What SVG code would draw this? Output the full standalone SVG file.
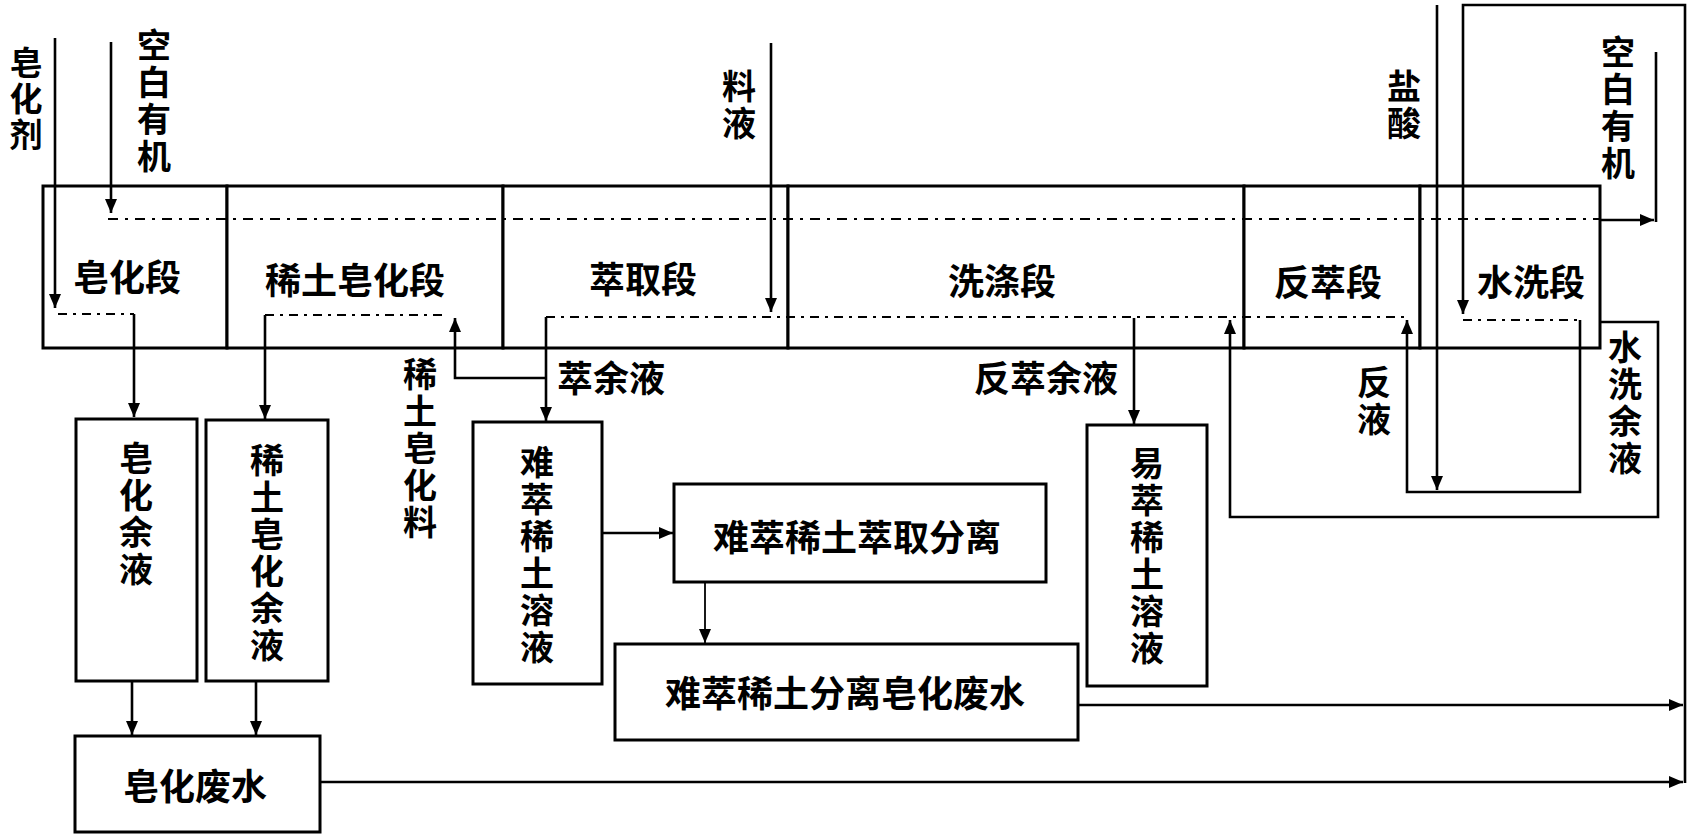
<svg xmlns="http://www.w3.org/2000/svg" width="1696" height="836" viewBox="0 0 1696 836">
<defs>
<marker id="ah" markerUnits="userSpaceOnUse" markerWidth="14" markerHeight="12" refX="14" refY="6" orient="auto">
<path d="M0,0 L14,6 L0,12 z" fill="#000"/>
</marker>
<style>
.box{fill:#fff;stroke:#000;stroke-width:3}
.ln{fill:none;stroke:#000;stroke-width:2.6}
.thin{fill:none;stroke:#000;stroke-width:1.8}
.dd{fill:none;stroke:#000;stroke-width:2;stroke-dasharray:10 7 3 7}
.ds{fill:none;stroke:#000;stroke-width:2;stroke-dasharray:9 6 3 6}
.t{font-family:"Noto Sans CJK SC","Noto Sans CJK JP",sans-serif;font-weight:700;font-size:36px;fill:#000;text-anchor:middle;dominant-baseline:central}
.v{font-family:"Noto Sans CJK SC","Noto Sans CJK JP",sans-serif;font-weight:700;font-size:34px;fill:#000;text-anchor:middle;writing-mode:vertical-rl;letter-spacing:3px}
</style>
</defs>
<rect width="1696" height="836" fill="#fff"/>

<g id="stage-soap"><rect class="box" x="43" y="186" width="184" height="162"/><text class="t" x="127" y="275">皂化段</text></g>
<g id="stage-re-soap"><rect class="box" x="227" y="186" width="276" height="162"/><text class="t" x="355" y="278">稀土皂化段</text></g>
<g id="stage-extract"><rect class="box" x="503" y="186" width="285" height="162"/><text class="t" x="643" y="277">萃取段</text></g>
<g id="stage-wash"><rect class="box" x="788" y="186" width="456" height="162"/><text class="t" x="1002" y="279">洗涤段</text></g>
<g id="stage-strip"><rect class="box" x="1244" y="186" width="176" height="162"/><text class="t" x="1328" y="280">反萃段</text></g>
<g id="stage-waterwash"><rect class="box" x="1420" y="186" width="180" height="162"/><text class="t" x="1531" y="280">水洗段</text></g>

<g id="soap-raffinate"><rect class="box" x="76" y="419" width="121" height="262"/><text class="v" x="136" y="515">皂化余液</text></g>
<g id="re-soap-raffinate"><rect class="box" x="206" y="420" width="122" height="261"/><text class="v" x="267" y="554">稀土皂化余液</text></g>
<g id="hard-re-solution"><rect class="box" x="473" y="422" width="129" height="262"/><text class="v" x="537" y="556">难萃稀土溶液</text></g>
<g id="easy-re-solution"><rect class="box" x="1087" y="425" width="120" height="261"/><text class="v" x="1147" y="557">易萃稀土溶液</text></g>
<g id="hard-re-separation"><rect class="box" x="674" y="484" width="372" height="98"/><text class="t" x="857" y="535">难萃稀土萃取分离</text></g>
<g id="hard-re-wastewater"><rect class="box" x="615" y="644" width="463" height="96"/><text class="t" x="845" y="691">难萃稀土分离皂化废水</text></g>
<g id="soap-wastewater"><rect class="box" x="75" y="736" width="245" height="96"/><text class="t" x="195" y="784">皂化废水</text></g>

<g id="connectors">
<path class="dd" d="M108,219 H1600"/>
<path class="ln" d="M1600,220 H1654" marker-end="url(#ah)"/>
<path class="ln" d="M1656,222 V52"/>
<path class="ln" d="M55,38 V308" marker-end="url(#ah)"/>
<path class="ln" d="M111,42 V213" marker-end="url(#ah)"/>
<path class="ds" d="M58,314 H134"/>
<path class="ln" d="M134,314 V417" marker-end="url(#ah)"/>
<path class="ds" d="M265,315 H445"/>
<path class="ln" d="M265,315 V419" marker-end="url(#ah)"/>
<path class="ln" d="M546,378 H455 V318" marker-end="url(#ah)"/>
<path class="ln" d="M546,317 V421" marker-end="url(#ah)"/>
<path class="ds" d="M546,317 H1405"/>
<path class="ln" d="M771,43 V312" marker-end="url(#ah)"/>
<path class="ln" d="M1134,318 V424" marker-end="url(#ah)"/>
<path class="ln" d="M1600,322 H1658 V517 H1230 V320" marker-end="url(#ah)"/>
<path class="ds" d="M1463,320 H1580"/>
<path class="ln" d="M1580,320 V492 H1407 V320" marker-end="url(#ah)"/>
<path class="ln" d="M1437,5 V490" marker-end="url(#ah)"/>
<path class="ln" d="M1685,783 V5 H1463 V314" marker-end="url(#ah)"/>
<path class="ln" d="M132,681 V735" marker-end="url(#ah)"/>
<path class="ln" d="M256,681 V735" marker-end="url(#ah)"/>
<path class="ln" d="M602,533 H673" marker-end="url(#ah)"/>
<path class="thin" d="M705,582 V643" marker-end="url(#ah)"/>
<path class="ln" d="M320,782 H1683" marker-end="url(#ah)"/>
<path class="ln" d="M1078,705 H1683" marker-end="url(#ah)"/>
</g>

<g id="labels">
<text class="v" x="26" y="100" style="font-size:33px">皂化剂</text>
<text class="v" x="154" y="102">空白有机</text>
<text class="v" x="739" y="106">料液</text>
<text class="v" x="1404" y="106">盐酸</text>
<text class="v" x="1618" y="109">空白有机</text>
<text class="v" x="420" y="450">稀土皂化料</text>
<text class="t" x="611" y="376">萃余液</text>
<text class="t" x="1046" y="376">反萃余液</text>
<text class="v" x="1374" y="402">反液</text>
<text class="v" x="1625" y="404">水洗余液</text>
</g>
</svg>
